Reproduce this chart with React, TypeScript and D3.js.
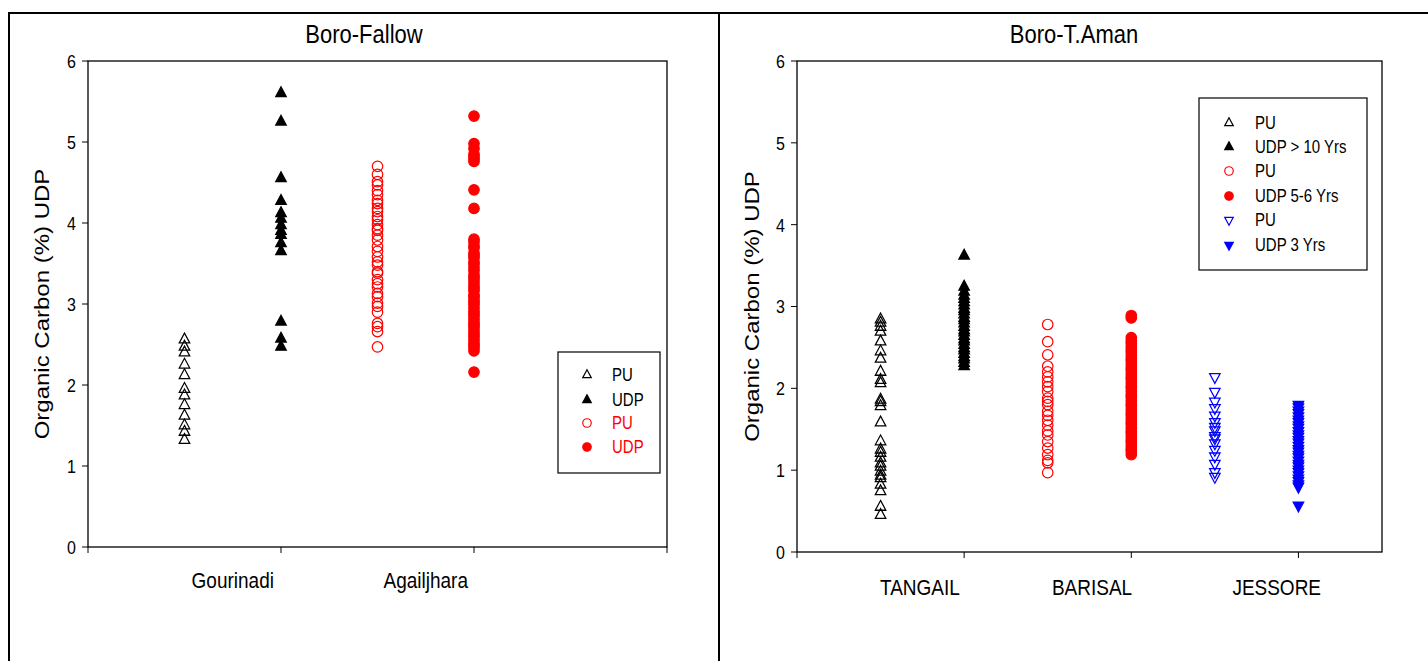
import React from "react";
import * as d3 from "d3";

// ---------- Data ----------
const yTicks = [0, 1, 2, 3, 4, 5, 6];

// Boro-Fallow panel
const bfTitle = "Boro-Fallow";
const bfCategories = ["Gourinadi", "Agailjhara"];
const bfCategoryPos = [1.5, 3.5];
const bfXTicks = [0, 2, 4, 6];
const bfPuGourinadi = [2.56, 2.47, 2.4, 2.25, 2.12, 1.95, 1.87, 1.75, 1.62, 1.5, 1.42, 1.32];
const bfUdpGourinadi = [5.6, 5.25, 4.55, 4.27, 4.12, 4.05, 3.97, 3.9, 3.85, 3.75, 3.65, 2.78, 2.57, 2.47];
const bfPuAgailjhara = [4.7, 4.6, 4.51, 4.47, 4.4, 4.35, 4.28, 4.24, 4.18, 4.14, 4.08, 4.04, 3.98, 3.93, 3.91, 3.85, 3.79, 3.71, 3.65, 3.58, 3.52, 3.48, 3.4, 3.38, 3.3, 3.25, 3.21, 3.13, 3.09, 3.01, 2.97, 2.9, 2.76, 2.72, 2.66, 2.47];
const bfUdpAgailjhara = [5.32, 4.98, 4.92, 4.85, 4.82, 4.79, 4.76, 4.41, 4.18, 3.8, 3.77, 3.72, 3.69, 3.63, 3.6, 3.57, 3.52, 3.49, 3.45, 3.41, 3.36, 3.33, 3.3, 3.26, 3.22, 3.19, 3.16, 3.11, 3.09, 3.05, 3.02, 2.99, 2.95, 2.91, 2.88, 2.85, 2.81, 2.77, 2.74, 2.71, 2.67, 2.63, 2.6, 2.56, 2.52, 2.49, 2.46, 2.42, 2.16];
const bfLegend = ["PU", "UDP", "PU", "UDP"];

// Boro-T.Aman panel
const btTitle = "Boro-T.Aman";
const btCategories = ["TANGAIL", "BARISAL", "JESSORE"];
const btCategoryPos = [1.47, 3.53, 5.74];
const btXTicks = [0, 2, 4, 6];
const btPuTangail = [2.84, 2.8, 2.75, 2.69, 2.57, 2.45, 2.36, 2.2, 2.1, 2.06, 1.86, 1.83, 1.78, 1.58, 1.35, 1.25, 1.21, 1.15, 1.08, 1.04, 0.98, 0.93, 0.9, 0.82, 0.74, 0.55, 0.45];
const btUdpTangail = [3.62, 3.24, 3.18, 3.13, 3.09, 3.05, 3.01, 2.97, 2.94, 2.9, 2.86, 2.83, 2.79, 2.75, 2.71, 2.68, 2.64, 2.6, 2.57, 2.53, 2.49, 2.46, 2.42, 2.38, 2.35, 2.31, 2.27];
const btPuBarisal = [2.78, 2.57, 2.41, 2.27, 2.2, 2.14, 2.08, 2.02, 1.96, 1.88, 1.84, 1.8, 1.72, 1.67, 1.61, 1.55, 1.48, 1.43, 1.35, 1.27, 1.19, 1.12, 1.09, 0.97];
const btUdpBarisal = [2.89, 2.86, 2.62, 2.58, 2.55, 2.51, 2.47, 2.44, 2.4, 2.36, 2.33, 2.29, 2.25, 2.22, 2.18, 2.14, 2.11, 2.07, 2.03, 2.0, 1.96, 1.92, 1.89, 1.85, 1.81, 1.78, 1.74, 1.7, 1.67, 1.63, 1.59, 1.56, 1.52, 1.48, 1.45, 1.41, 1.37, 1.34, 1.3, 1.26, 1.23, 1.19];
const btPuJessore = [2.14, 1.96, 1.84, 1.76, 1.67, 1.59, 1.53, 1.49, 1.42, 1.39, 1.33, 1.25, 1.17, 1.08, 0.98, 0.92];
const btUdpJessore = [1.8, 1.77, 1.73, 1.7, 1.66, 1.62, 1.59, 1.55, 1.52, 1.48, 1.44, 1.41, 1.37, 1.34, 1.3, 1.26, 1.23, 1.19, 1.16, 1.12, 1.08, 1.05, 1.01, 0.98, 0.94, 0.9, 0.87, 0.83, 0.8, 0.57];
const btLegend = ["PU", "UDP > 10 Yrs", "PU", "UDP 5-6 Yrs", "PU", "UDP 3 Yrs"];

const yLabel = "Organic Carbon (%) UDP";
const FONT = "'Liberation Sans', Arial, sans-serif";
const STRETCH = 1.2; // the original graphic's text is stretched vertically

type MarkerKind = "triUp" | "triDown" | "circle";
interface Series {
  x: number;
  values: number[];
  kind: MarkerKind;
  color: string;
  filled: boolean;
}

function Marker({ kind, color, filled, x, y, size }: { kind: MarkerKind; color: string; filled: boolean; x: number; y: number; size: number }) {
  const fill = filled ? color : "none";
  const sw = 1.2;
  if (kind === "circle") {
    return <circle cx={x} cy={y} r={size / 2} fill={fill} stroke={color} strokeWidth={sw} />;
  }
  const path = d3.symbol().type(d3.symbolTriangle).size((Math.sqrt(3) / 4) * size * size)();
  const rot = kind === "triDown" ? 180 : 0;
  return <path d={path || ""} transform={`translate(${x},${y}) rotate(${rot}) scale(1,1.08)`} fill={fill} stroke={color} strokeWidth={sw} />;
}

function SText({ x, y, size, anchor, color, children, middle }: { x: number; y: number; size: number; anchor?: string; color?: string; children: React.ReactNode; middle?: boolean }) {
  return (
    <g transform={`translate(${x},${y}) scale(1,${STRETCH})`}>
      <text x={0} y={0} dy={middle ? "0.36em" : undefined} textAnchor={anchor || "start"} fontFamily={FONT} fontSize={size} fill={color || "#000"}>
        {children}
      </text>
    </g>
  );
}

interface PanelProps {
  title: string;
  titleX: number;
  left: number;
  right: number;
  top: number;
  bottom: number;
  xMax: number;
  xTicks: number[];
  categories: string[];
  categoryPos: number[];
  catY: number;
  series: Series[];
  labelX: number;
  legend: { x: number; y: number; w: number; h: number; rowY: number[]; symX: number; textX: number; labels: string[]; textColors: string[] };
}

function Panel(p: PanelProps) {
  const x = d3.scaleLinear().domain([0, p.xMax]).range([p.left, p.right]);
  const y = d3.scaleLinear().domain([0, 6]).range([p.bottom, p.top]);
  const midY = (p.top + p.bottom) / 2;
  return (
    <g>
      <SText x={p.titleX} y={43} size={22} anchor="middle">
        {p.title}
      </SText>
      <rect x={p.left} y={p.top} width={p.right - p.left} height={p.bottom - p.top} fill="none" stroke="#000" strokeWidth={1.3} />
      {yTicks.map((t) => (
        <g key={"y" + t}>
          <line x1={p.left - 6} x2={p.left} y1={y(t)} y2={y(t)} stroke="#000" strokeWidth={1} />
          <SText x={p.left - 12} y={y(t)} size={16} anchor="end" middle>
            {t}
          </SText>
        </g>
      ))}
      {p.xTicks.map((t) => (
        <line key={"x" + t} x1={x(t)} x2={x(t)} y1={p.bottom} y2={p.bottom + 6} stroke="#000" strokeWidth={1} />
      ))}
      {p.categories.map((c, i) => (
        <SText key={c} x={x(p.categoryPos[i])} y={p.catY} size={19} anchor="middle">
          {c}
        </SText>
      ))}
      <g transform={`translate(${p.labelX},${midY}) rotate(-90) scale(${STRETCH},1)`}>
        <text x={0} y={0} textAnchor="middle" dy="0.35em" fontFamily={FONT} fontSize={20} fill="#000">
          {yLabel}
        </text>
      </g>
      {p.series.map((s, si) =>
        s.values.map((v, vi) => <Marker key={si + "-" + vi} kind={s.kind} color={s.color} filled={s.filled} x={x(s.x)} y={y(v)} size={10.5} />)
      )}
      <rect x={p.legend.x} y={p.legend.y} width={p.legend.w} height={p.legend.h} fill="#fff" stroke="#000" strokeWidth={1.2} />
      {p.legend.labels.map((l, i) => {
        const s = p.series[i];
        return (
          <g key={"lg" + i}>
            <Marker kind={s.kind} color={s.color} filled={s.filled} x={p.legend.symX} y={p.legend.rowY[i]} size={8.5} />
            <SText x={p.legend.textX} y={p.legend.rowY[i]} size={15} color={p.legend.textColors[i]} middle>
              {l}
            </SText>
          </g>
        );
      })}
    </g>
  );
}

export default function App() {
  const bfSeries: Series[] = [
    { x: 1, values: bfPuGourinadi, kind: "triUp", color: "#000", filled: false },
    { x: 2, values: bfUdpGourinadi, kind: "triUp", color: "#000", filled: true },
    { x: 3, values: bfPuAgailjhara, kind: "circle", color: "#ff0000", filled: false },
    { x: 4, values: bfUdpAgailjhara, kind: "circle", color: "#ff0000", filled: true },
  ];
  const btSeries: Series[] = [
    { x: 1, values: btPuTangail, kind: "triUp", color: "#000", filled: false },
    { x: 2, values: btUdpTangail, kind: "triUp", color: "#000", filled: true },
    { x: 3, values: btPuBarisal, kind: "circle", color: "#ff0000", filled: false },
    { x: 4, values: btUdpBarisal, kind: "circle", color: "#ff0000", filled: true },
    { x: 5, values: btPuJessore, kind: "triDown", color: "#0000ff", filled: false },
    { x: 6, values: btUdpJessore, kind: "triDown", color: "#0000ff", filled: true },
  ];
  return (
    <svg width={1428} height={661} style={{ position: "absolute", left: 0, top: 0, background: "#fff" }}>
      <rect x={0} y={0} width={1428} height={661} fill="#fff" />
      <line x1={8} x2={1428} y1={13} y2={13} stroke="#000" strokeWidth={2} />
      <line x1={9} x2={9} y1={12} y2={661} stroke="#000" strokeWidth={2} />
      <line x1={719} x2={719} y1={12} y2={661} stroke="#000" strokeWidth={2} />
      <Panel
        title={bfTitle}
        titleX={364}
        left={88}
        right={667}
        top={61}
        bottom={547}
        xMax={6}
        xTicks={bfXTicks}
        categories={bfCategories}
        categoryPos={bfCategoryPos}
        catY={588}
        series={bfSeries}
        labelX={42}
        legend={{ x: 558, y: 352, w: 102, h: 121, rowY: [375, 400, 423, 447], symX: 587, textX: 612, labels: bfLegend, textColors: ["#000", "#000", "#ff0000", "#ff0000"] }}
      />
      <Panel
        title={btTitle}
        titleX={1074}
        left={797}
        right={1382}
        top={61}
        bottom={552}
        xMax={7}
        xTicks={btXTicks}
        categories={btCategories}
        categoryPos={btCategoryPos}
        catY={595}
        series={btSeries}
        labelX={752}
        legend={{ x: 1199, y: 98, w: 168, h: 172, rowY: [123, 147, 171, 196, 220, 245], symX: 1229, textX: 1255, labels: btLegend, textColors: ["#000", "#000", "#000", "#000", "#000", "#000"] }}
      />
    </svg>
  );
}
